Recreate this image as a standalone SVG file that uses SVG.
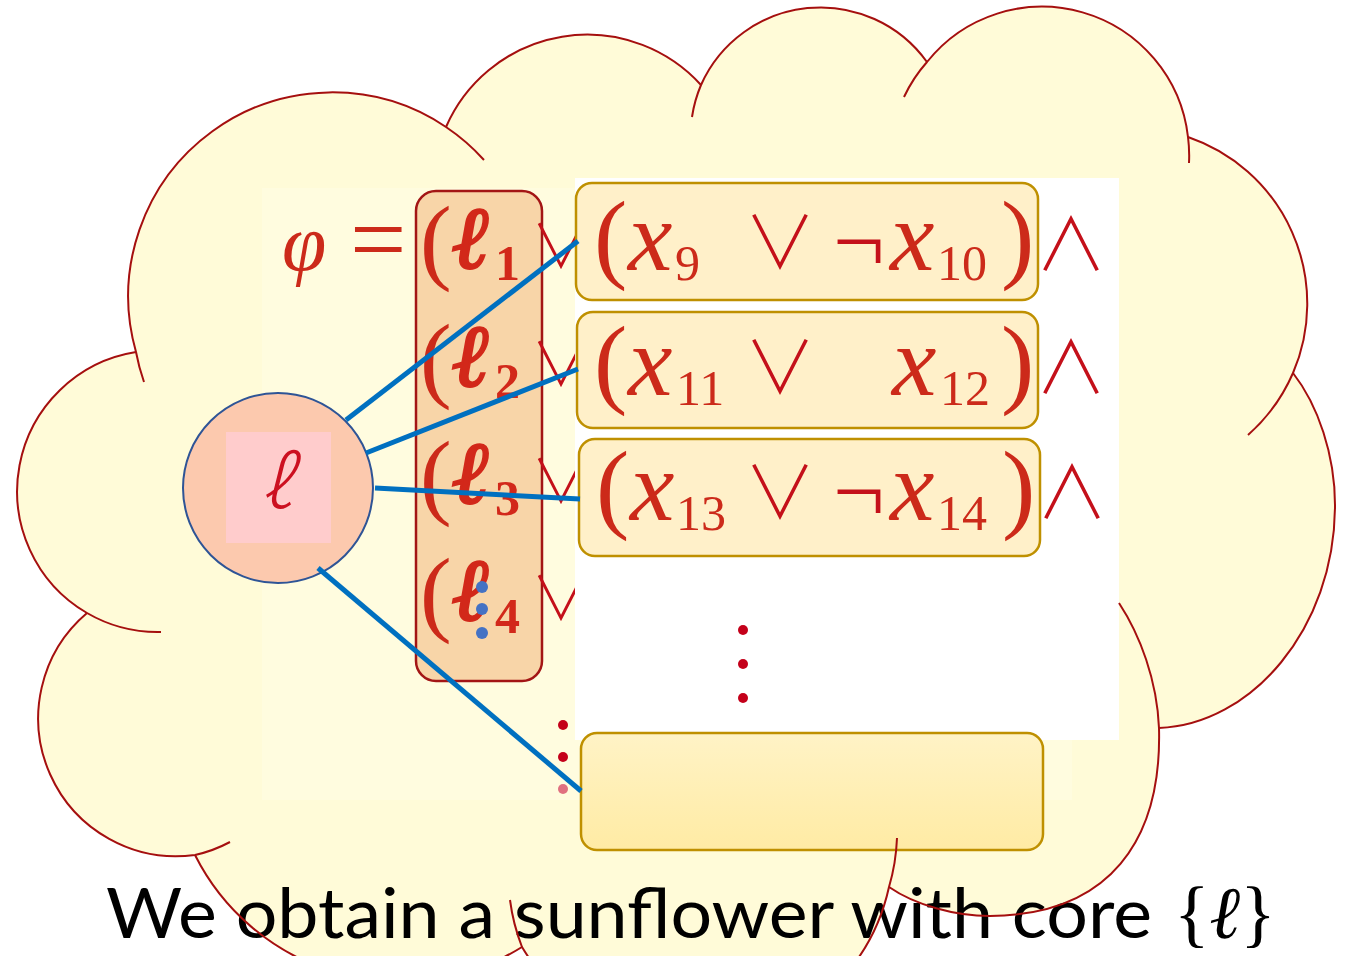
<svg xmlns="http://www.w3.org/2000/svg" width="1349" height="956" viewBox="0 0 1349 956">
<defs>
<linearGradient id="g4" x1="0" y1="0" x2="0" y2="1"><stop offset="0" stop-color="#FFF3C6"/><stop offset="1" stop-color="#FFEBA4"/></linearGradient>
<style>
.cl{fill:none;stroke:#A50F0F;stroke-width:2;}
.m{font-family:"Liberation Serif","DejaVu Serif",serif;fill:#CC2A1A;}
.it{font-style:italic;}
.big{font-size:100px;}
.sub{font-size:50px;font-style:normal;}
.sym{font-family:"Noto Sans CJK JP","DejaVu Sans",sans-serif;font-weight:300;fill:#C4101A;font-size:72px;font-style:normal;}
.lsym{font-family:"Noto Sans CJK JP","DejaVu Sans",sans-serif;font-weight:300;fill:#C4101A;font-size:60px;font-style:normal;stroke:none;}
.neg{font-family:"Liberation Serif",serif;fill:#C4101A;font-size:92px;font-style:normal;}
.lb{font-family:"Liberation Serif","DejaVu Serif",serif;font-weight:bold;font-style:italic;font-size:88px;fill:#D2281A;stroke:#D2281A;stroke-width:2.5;}
.lsub{font-family:"Liberation Serif",serif;font-weight:bold;font-style:normal;font-size:50px;fill:#D2281A;stroke:none;}
.lp{font-family:"Liberation Serif",serif;font-size:95px;fill:#CC2A1A;font-weight:normal;font-style:normal;stroke:none;}
.box{fill:#FFF0C9;stroke:#BF9000;stroke-width:2.5;}
.ln{stroke:#0070C0;stroke-width:5;}
.rd{fill:#C4001A;}
.bd{fill:#4472C4;}
</style>
</defs>
<g id="cloud-fill">
<path fill="#FFFBD8" d="M136,352 A204,204 0 0 1 446,127 A154,154 0 0 1 701,85 A131,131 0 0 1 927,62 A147,147 0 0 1 1188,137 A176,176 0 0 1 1293,373 C1318,405 1335,455 1335,505 C1335,630 1250,725 1159,728 C1162,840 1110,915 990,916 C955,916 915,905 889,887 A200,200 0 0 1 522,947 A230,230 0 0 1 195,855 A138,138 0 0 1 87,613 A141,141 0 0 1 136,352 Z"/>
</g>
<g id="formula-bg">
<rect x="262" y="188" width="810" height="612" fill="#FFFCDF"/>
</g>
<g id="literal-column">
<rect x="416" y="191" width="126" height="490" rx="20" fill="#F8D5A8" stroke="#A31515" stroke-width="2.5"/>
<text class="m" y="270"><tspan class="it" x="282" font-size="80">φ</tspan><tspan x="350" y="273" font-size="100">=</tspan></text>
<text class="lb" y="268"><tspan class="lp" x="420" y="272">(</tspan><tspan x="453" y="268">ℓ</tspan><tspan class="lsub" x="495" y="280">1</tspan><tspan class="lsym" x="531" y="268">∨</tspan></text>
<text class="lb" y="386"><tspan class="lp" x="420" y="390">(</tspan><tspan x="453" y="386">ℓ</tspan><tspan class="lsub" x="495" y="398">2</tspan><tspan class="lsym" x="531" y="386">∨</tspan></text>
<text class="lb" y="503"><tspan class="lp" x="420" y="507">(</tspan><tspan x="453" y="503">ℓ</tspan><tspan class="lsub" x="495" y="515">3</tspan><tspan class="lsym" x="531" y="503">∨</tspan></text>
<text class="lb" y="620"><tspan class="lp" x="420" y="624">(</tspan><tspan x="453" y="620">ℓ</tspan><tspan class="lsub" x="495" y="633">4</tspan><tspan class="lsym" x="531" y="620">∨</tspan></text>
</g>
<g id="white-panel">
<rect x="575" y="178" width="544" height="562" fill="#FFFFFF"/>
</g>
<g id="clause1">
<rect class="box" x="576" y="183" width="462" height="117" rx="16"/>
<text class="m big" y="270"><tspan x="594">(</tspan><tspan class="it" x="628">x</tspan><tspan class="sub" x="675" y="280">9</tspan><tspan class="sym" x="744" y="268">∨</tspan><tspan class="neg" x="833" y="272">¬</tspan><tspan class="it" x="890" y="270">x</tspan><tspan class="sub" x="937" y="280">10</tspan><tspan x="1001" y="270">)</tspan><tspan class="sym" x="1035" y="270">∧</tspan></text>
</g>
<g id="clause2">
<rect class="box" x="577" y="312" width="461" height="116" rx="16"/>
<text class="m big" y="395"><tspan x="594">(</tspan><tspan class="it" x="628">x</tspan><tspan class="sub" x="676" y="405">11</tspan><tspan class="sym" x="744" y="393">∨</tspan><tspan class="it" x="892" y="395">x</tspan><tspan class="sub" x="940" y="405">12</tspan><tspan x="1001" y="395">)</tspan><tspan class="sym" x="1035" y="393">∧</tspan></text>
</g>
<g id="clause3">
<rect class="box" x="579" y="439" width="461" height="117" rx="16"/>
<text class="m big" y="520"><tspan x="596">(</tspan><tspan class="it" x="630">x</tspan><tspan class="sub" x="676" y="530">13</tspan><tspan class="sym" x="744" y="518">∨</tspan><tspan class="neg" x="833" y="522">¬</tspan><tspan class="it" x="890" y="520">x</tspan><tspan class="sub" x="937" y="530">14</tspan><tspan x="1002" y="520">)</tspan><tspan class="sym" x="1036" y="518">∧</tspan></text>
</g>
<g id="vdots">
<circle class="rd" cx="743" cy="630" r="5"/>
<circle class="rd" cx="743" cy="664" r="5"/>
<circle class="rd" cx="743" cy="698" r="5"/>
<circle class="rd" cx="563" cy="725" r="5"/>
<circle class="rd" cx="563" cy="757" r="5"/>
<circle cx="563" cy="789" r="5" fill="#E07080"/>
</g>
<g id="clause-last">
<rect x="581" y="733" width="462" height="117" rx="16" fill="url(#g4)" stroke="#BF9000" stroke-width="2.5"/>
</g>
<g id="core">
<circle cx="278" cy="488" r="95" fill="#FCC9AE" stroke="#2E5496" stroke-width="2"/>
<rect x="226" y="432" width="105" height="111" fill="#FFCCCC"/>
<text x="276" y="508" text-anchor="middle" font-family="Noto Sans CJK JP, Liberation Serif, serif" font-weight="300" font-style="italic" font-size="72" fill="#CC1020">ℓ</text>
</g>
<g id="connectors">
<line class="ln" x1="346" y1="420" x2="578" y2="241"/>
<line class="ln" x1="366" y1="453" x2="578" y2="369"/>
<line class="ln" x1="375" y1="488" x2="580" y2="499"/>
<line class="ln" x1="318" y1="568" x2="581" y2="791"/>
</g>
<g id="blue-dots">
<circle class="bd" cx="482" cy="587" r="6"/>
<circle class="bd" cx="482" cy="609" r="6"/>
<circle class="bd" cx="482" cy="633" r="6"/>
</g>
<g id="caption">
<text x="106" y="938" font-family="Lato" font-size="70" textLength="1046" lengthAdjust="spacingAndGlyphs" fill="#000000">We obtain a sunflower with core</text>
<text x="1174" y="938" font-family="Liberation Serif" font-size="74" fill="#000000">{<tspan font-style="italic">ℓ</tspan>}</text>
</g>
<g id="cloud-outline">
<path class="cl" d="M144,382 A204,204 0 0 1 136,352 A204,204 0 0 1 446,127 A204,204 0 0 1 484,160"/>
<path class="cl" d="M446,127 A154,154 0 0 1 701,85"/>
<path class="cl" d="M692,117 A131,131 0 0 1 701,85 A131,131 0 0 1 927,62"/>
<path class="cl" d="M904,97 A147,147 0 0 1 927,62 A147,147 0 0 1 1188,137 A147,147 0 0 1 1189,163"/>
<path class="cl" d="M1188,137 A176,176 0 0 1 1293,373 A176,176 0 0 1 1248,435"/>
<path class="cl" d="M1293,373 C1318,405 1335,455 1335,505 C1335,630 1250,725 1159,728"/>
<path class="cl" d="M1119,603 C1140,635 1157,680 1159,728 C1162,840 1110,915 990,916 C955,916 915,905 889,887"/>
<path class="cl" d="M897,838 A200,200 0 0 1 889,887 A200,200 0 0 1 522,947 A200,200 0 0 1 510,900"/>
<path class="cl" d="M522,947 A230,230 0 0 1 195,855"/>
<path class="cl" d="M230,842 A138,138 0 0 1 195,855 A138,138 0 0 1 87,613"/>
<path class="cl" d="M161,632 A141,141 0 0 1 87,613 A141,141 0 0 1 136,352"/>
</g>
</svg>
